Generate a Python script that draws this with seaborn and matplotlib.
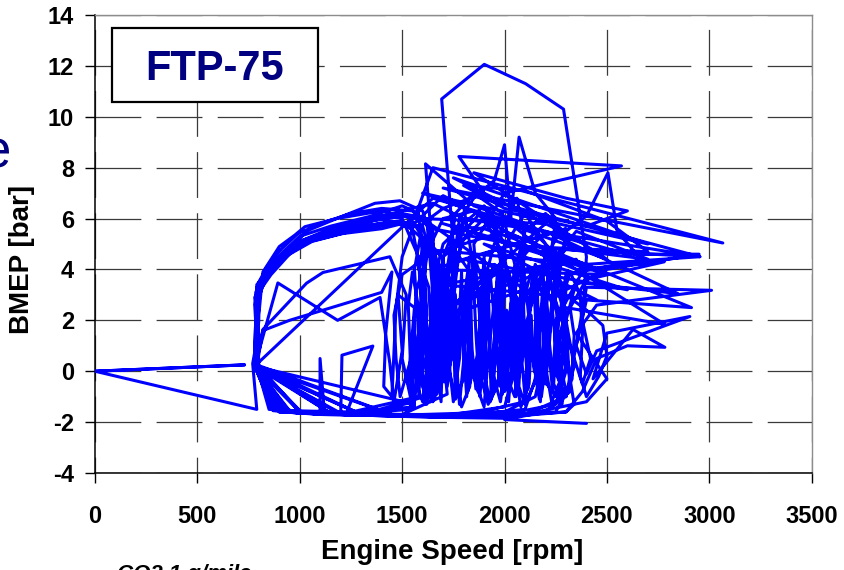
import matplotlib
matplotlib.use("Agg")
import matplotlib.pyplot as plt
from matplotlib.patches import Rectangle
import pandas as pd
import seaborn as sns

# FTP-75 operating trace: (engine speed [rpm], BMEP [bar]) in drive order
cold_transient = [
    (0, 0.0), (730, 0.25), (0, 0.0), (790, -1.5), (770, 0.3),
    (790, 1.2), (780, 2.6), (800, 3.4), (850, 4.0), (920, 4.7), (1000, 5.3), (1150, 5.7),
    (1350, 6.1), (1500, 6.5), (1580, 6.2), (1600, 4.5), (1620, 2.0), (1590, 0.5),
    (1610, -0.8), (1650, 1.5), (1680, 3.5), (1640, 5.0), (1700, 6.0), (1850, 6.3),
    (1950, 5.6), (2000, 3.5), (1960, 1.0), (1980, -0.6), (2020, 1.8), (2050, 3.8),
    (2100, 5.5), (2200, 6.2), (2300, 5.4), (2250, 3.0), (2200, 0.8), (2150, -1.0),
    (2000, -1.6), (1600, -1.7), (1200, -1.7), (960, -1.55), (850, -1.3), (790, 0.2),
    (820, 1.6), (950, 2.0), (1400, 3.1), (1450, 3.9), (1420, 1.5), (1410, -0.6),
    (1450, -1.0), (1470, 2.5), (1500, 4.5), (1560, 5.8), (1700, 6.9), (1800, 6.5),
    (1850, 4.0), (1800, 1.5), (1820, -0.8), (1880, 1.0), (1900, 3.5), (1950, 5.0),
    (2060, 6.8), (2100, 5.2), (2080, 2.5), (2120, 0.2), (2100, -1.2), (1800, -1.75),
    (1300, -1.7), (1000, -1.6), (800, 0.2),
    (790, 2.8), (830, 3.6), (900, 4.3), (1000, 4.9), (1100, 5.4), (1300, 5.8),
    (1500, 6.2), (1620, 6.0), (1650, 3.0), (1630, 0.6), (1660, -0.9), (1700, 2.5),
    (1750, 5.0), (1693, 10.7), (1901, 12.06), (2103, 11.3), (2288, 10.3), (2352, 7.0),
    (2400, 4.5), (2380, 2.0), (2420, 0.5), (2380, -0.5), (2300, 1.5), (2200, 4.0),
    (2350, 5.5), (2700, 4.4), (2300, 4.8), (2100, 3.0), (2050, 0.0), (2000, -1.4),
    (1700, -1.75), (1100, -1.7), (880, -1.5), (790, 0.25),
    (780, 1.0), (790, 3.0), (860, 3.8), (950, 4.6), (1060, 5.1), (1250, 5.5),
    (1450, 5.8), (1600, 5.7), (1650, 4.2), (1700, 1.8), (1720, -0.2), (1760, 1.2),
    (1740, 3.6), (1800, 5.2), (1900, 6.0), (2000, 4.5), (2050, 2.0), (2000, -0.8),
    (2070, 0.8), (2150, 3.2), (2250, 4.8), (2954, 4.5), (2400, 4.2), (2250, 2.0),
    (2300, 0.0), (2250, -1.3), (2000, -1.7), (1500, -1.75), (1000, -1.65), (870, -1.55),
    (780, 0.2), (893, 3.47), (1185, 2.0), (1392, 2.9), (1440, 0.3), (1460, -1.2),
    (1500, 0.8), (1480, 3.0), (1560, 2.5), (1530, -0.5), (1560, -1.4), (1200, -1.65),
    (780, 0.2), (870, -1.5), (790, 0.2), (1000, -1.55), (800, 0.1), (1300, -1.7),
    (790, 0.25), (1450, -1.7), (780, 0.2), (930, -1.55), (790, 0.2), (1150, -1.65),
    (780, 0.2),
]

stabilized = [
    (780, 0.2), (790, 1.5), (800, 3.2), (870, 4.0), (960, 4.8), (1030, 5.5), (1180, 6.0),
    (1367, 6.6), (1489, 6.7), (1600, 6.3), (1650, 5.0), (1700, 2.0), (1680, -0.3),
    (1720, 1.8), (1750, 4.2), (1780, 6.0), (1850, 6.8), (1950, 7.5), (2000, 8.9),
    (2030, 6.0), (2071, 9.2), (2150, 7.0), (2250, 6.0), (2200, 3.0), (2150, 0.5),
    (2180, -1.0), (2220, 1.5), (2250, 3.5), (2300, 2.0), (2320, -0.8), (2200, -1.6),
    (1900, -1.8), (1500, -1.75), (1100, -1.7), (920, -1.6), (780, 0.2),
    (800, 2.5), (810, 3.6), (900, 4.5), (1000, 5.0), (1200, 5.4), (1400, 5.6),
    (1550, 5.9), (1620, 5.0), (1600, 2.5), (1630, 0.0), (1610, -1.3), (1650, 0.5),
    (1670, 3.0), (1640, 5.5), (1614, 8.15), (1850, 6.5), (2100, 5.8), (2250, 4.6),
    (2200, 2.5), (2230, 0.3), (2300, -1.0), (2350, 1.0), (2400, 3.3), (3011, 3.18),
    (2450, 2.6), (2350, 1.5), (2450, 0.3), (2500, -0.3), (2400, -1.2), (2000, -1.85),
    (1600, -1.8), (1200, -1.7), (1206, 0.63), (1357, 0.99), (1230, -1.6), (950, -1.55),
    (780, 0.2),
    (820, 1.64), (1033, 3.46), (1113, 3.88), (1440, 4.5), (1520, 3.0), (1500, 0.5),
    (1540, -1.0), (1580, 1.5), (1560, 4.0), (1600, 5.8), (1700, 6.4), (1900, 7.0),
    (1777, 8.44), (2571, 8.07), (2000, 7.0), (1850, 5.0), (1880, 2.0), (1860, -0.5),
    (1900, -1.4), (1920, 0.5), (1950, 2.8), (1990, 4.8), (2100, 6.2), (2200, 5.0),
    (2180, 2.5), (2150, -0.3), (2100, -1.5), (1700, -1.8), (1300, -1.7), (1099, -1.6),
    (1099, 0.5), (1120, -1.6), (900, -1.6), (780, 0.2),
    (790, 2.0), (790, 3.3), (880, 4.2), (1000, 5.1), (1200, 5.7), (1400, 6.0),
    (1550, 5.6), (1600, 3.5), (1620, 1.0), (1650, -1.0), (1680, 0.8), (1700, 3.2),
    (1720, 1.0), (1750, -1.2), (1780, 0.5), (1800, 2.7), (1830, 4.5), (1810, 2.0),
    (1850, 0.0), (1880, -1.0), (1900, 1.5), (1930, 3.8), (1960, 1.2), (1990, -0.9),
    (2020, 0.9), (2050, 3.0), (2080, 5.0), (2110, 2.8), (2140, 0.4), (2170, -1.1),
    (2200, 0.8), (2230, 2.6), (2260, 4.4), (2290, 2.0), (2310, 0.2), (2340, -1.3),
    (2300, -1.6), (2000, -1.8), (1600, -1.75), (1100, -1.65), (900, -1.55), (780, 0.25),
    (800, 2.2), (820, 3.9), (900, 4.9), (976, 5.35), (1025, 5.68), (1180, 6.0),
    (1400, 6.3), (1560, 6.0), (1650, 8.0), (3066, 5.04), (1700, 7.2), (2954, 4.5),
    (1800, 6.0), (1600, 0.0), (1610, 3.0), (1625, -0.5), (1640, 2.2), (1660, 4.0),
    (1670, 0.5), (1690, -1.2), (1700, 1.8), (1715, 3.7), (1730, 0.2), (1745, 2.5),
    (1760, -0.8), (1775, 1.4), (1790, 3.9), (1800, 1.0), (1815, -1.0), (1830, 2.0),
    (1845, 4.2), (1860, 1.5), (1875, -0.4), (1890, 2.6), (1905, 0.0), (1920, 3.5),
    (1935, -1.1), (1950, 1.2), (1965, 4.0), (1980, 2.0), (1995, -0.6), (2010, 2.4),
    (2025, 0.4), (2040, 3.6), (2055, -1.0), (2070, 1.6), (2085, 4.3), (2100, 1.0),
    (2115, -0.7), (2130, 2.2), (2145, 0.0), (2160, 3.3), (2175, -1.2), (2190, 1.0),
    (2205, 3.0), (2220, 0.5), (2235, -0.8), (2250, 2.0), (2265, 0.2), (2280, -1.3),
    (2260, 1.8), (2240, 3.5), (2220, 1.2), (2200, -0.5), (2180, 2.6), (2160, 0.6),
    (2140, 4.0), (2120, 2.2), (2100, -1.0), (2080, 0.8), (2060, 2.9), (2040, 1.0),
    (2020, -1.2), (2000, 1.5), (1980, 3.8), (1960, 0.8), (1940, -0.9), (1920, 2.2),
    (1900, 4.5), (1880, 2.0), (1860, -0.7), (1840, 1.0), (1820, 3.2), (1800, 0.4),
    (1780, -1.3), (1760, 0.9), (1740, 3.0), (1720, 1.2), (1700, -0.4), (1680, 2.4),
    (1660, 0.0), (1640, -1.2), (1620, 1.8), (1600, 3.6), (1580, 0.9), (1570, -0.7),
    (1560, 2.0), (1540, -1.5), (1200, -1.7), (950, -1.6), (780, 0.2),
    (800, 2.9), (840, 3.8), (930, 4.6), (1050, 5.2), (1250, 5.6), (1450, 5.9),
    (1580, 5.7), (1620, 4.6), (1600, 3.0), (1590, 1.2), (1600, -0.3), (1630, -1.0),
    (1660, -0.2), (1670, 1.5), (1665, 3.2), (1680, 4.2), (1720, 3.4), (1740, 1.6),
    (1730, 0.0), (1760, -1.1), (1800, -0.3), (1810, 1.4), (1800, 2.9), (1830, 3.9),
    (1880, 3.1), (1900, 1.2), (1890, -0.4), (1920, -1.3), (1970, -0.5), (1980, 1.0),
    (1970, 2.6), (2000, 3.7), (2060, 2.9), (2080, 1.0), (2070, -0.6), (2100, -1.3),
    (2150, -0.4), (2160, 1.2), (2150, 2.8), (2180, 3.6), (2230, 2.7), (2250, 1.0),
    (2240, -0.5), (2280, -1.2), (2330, -0.3), (2340, 1.4), (2320, 2.5), (2400, 3.6),
    (2780, 4.3), (2350, 4.0), (2200, 4.5), (2050, 5.2), (1900, 5.6), (1760, 5.7),
    (1700, 4.5), (1720, 2.5), (1700, 0.8), (1720, -0.9), (1500, -1.7), (1000, -1.6),
    (780, 0.2),
    (1560, -1.3), (1550, 0.0), (1555, 1.6), (1570, 3.2), (1600, 4.0), (1630, 3.3),
    (1640, 1.8), (1630, 0.2), (1650, -1.2), (1690, -0.4), (1700, 1.0), (1695, 2.6),
    (1720, 3.8), (1760, 3.0), (1770, 1.4), (1760, -0.2), (1790, -1.4), (1830, -0.6),
    (1840, 1.1), (1835, 2.9), (1860, 4.3), (1900, 3.4), (1910, 1.6), (1900, -0.1),
    (1930, -1.2), (1970, -0.3), (1990, 1.2), (1980, 2.8), (2010, 4.1), (2050, 3.2),
    (2060, 1.6), (2050, 0.0), (2080, -1.4), (2120, -0.5), (2130, 1.1), (2120, 2.8),
    (2150, 4.2), (2200, 3.4), (2210, 1.8), (2200, 0.2), (2230, -1.2), (2270, -0.4),
    (2290, 1.2), (2280, 2.8), (2320, 3.9), (2370, 3.0), (2380, 1.4), (2370, -0.2),
    (2400, -1.0), (2460, -0.2), (2500, 0.6), (2480, 1.8), (2400, 2.4), (2300, 3.0),
    (2200, 4.8), (2000, 5.5), (1800, 5.0), (1620, 4.5), (1500, 3.8), (1460, 2.2),
    (1470, 0.5), (1490, -1.0), (1540, 0.4), (1530, 2.6), (1550, 3.9), (1580, 2.5),
    (1580, 0.6), (1610, -1.0), (1300, -1.7), (780, 0.2),
]

hot_transient = [
    (790, 0.8), (785, 3.1), (830, 3.9), (900, 4.5), (1000, 5.1), (1150, 5.6),
    (1300, 5.9), (1500, 6.3), (1650, 6.6), (1800, 6.0), (2000, 5.8), (2200, 5.5),
    (2600, 4.6), (2950, 4.6), (2500, 4.0), (2300, 3.2), (2280, 1.6), (2300, 0.2),
    (2250, -1.0), (2180, -0.2), (2170, 1.5), (2190, 3.0), (2130, 3.9), (2080, 2.4),
    (2090, 0.6), (2050, -1.0), (2000, 0.0), (1990, 1.8), (2000, 3.3), (1950, 4.2),
    (1900, 3.0), (1900, 1.0), (1870, -0.8), (1830, 0.4), (1820, 2.2), (1840, 3.8),
    (1770, 4.6), (1740, 3.0), (1750, 1.2), (1720, -0.6), (1680, 0.5), (1690, 2.4),
    (1700, 4.4), (1620, 5.2), (1600, 3.0), (1580, 0.2), (1560, -1.2), (1300, -1.7),
    (900, -1.6), (780, 0.3),
    (785, 2.2), (800, 3.5), (840, 4.1), (910, 4.8), (990, 5.4), (1100, 5.8),
    (1250, 6.2), (1400, 6.4), (1550, 6.3), (1650, 5.5), (1660, 3.2), (1640, 0.8),
    (1670, -0.9), (1700, 1.6), (1720, 4.0), (1760, 6.2), (1850, 7.0), (1990, 6.2),
    (2050, 4.2), (2020, 1.8), (2060, -0.5), (2100, 1.2), (2150, 3.6), (2250, 5.2),
    (2400, 6.1), (2505, 7.8), (2550, 5.5), (2669, 4.37), (2300, 3.8), (2250, 1.2),
    (2300, -0.8), (2250, -1.6), (1900, -1.75), (1400, -1.7), (1000, -1.6), (850, -1.5),
    (790, 0.2),
    (800, 1.2), (780, 2.9), (830, 3.7), (920, 4.5), (1050, 5.2), (1200, 5.7), (1400, 6.1),
    (1500, 6.0), (1580, 4.5), (1600, 1.5), (1570, -0.5), (1600, -1.2), (1630, 0.8),
    (1650, 3.4), (1700, 5.0), (1800, 5.8), (1900, 6.5), (2000, 5.0), (1960, 2.5),
    (1940, 0.0), (1980, -1.2), (2010, 0.6), (2040, 3.0), (2100, 4.6), (2200, 5.5),
    (2847, 3.05), (2350, 3.5), (2300, 2.0), (2340, 0.2), (2300, -1.0), (2100, -1.7),
    (1700, -1.8), (1200, -1.7), (900, -1.55), (780, 0.2),
    (1650, 6.8), (2400, 5.0), (1750, 7.6), (2700, 5.0), (1600, 7.0), (2500, 4.4),
    (1850, 7.8), (2300, 6.8), (2600, 6.3), (2400, 5.7), (2000, 6.4), (1800, 7.3),
    (2100, 7.1), (2500, 5.9), (2700, 4.7), (2100, 4.9), (1650, 5.6), (1580, 4.0),
    (1600, 4.8), (2400, 4.2), (1700, 5.8), (2500, 3.8), (1650, 4.0), (2300, 5.6),
    (1800, 4.4), (2600, 3.2), (1900, 5.0), (2450, 2.8), (1700, 3.4), (2350, 4.4),
    (1750, 2.6), (2200, 5.8), (1600, 6.0), (2100, 3.2), (1650, 2.0), (2000, 4.2),
    (1600, 1.0), (1580, -1.0), (1200, -1.7), (780, 0.2),
    (790, 2.2), (810, 3.5), (900, 4.3), (1000, 5.0), (1150, 5.5), (1350, 5.9), (1500, 6.1),
    (1620, 5.9), (1680, 4.0), (1700, 1.2), (1690, -0.6), (1730, 0.9), (1760, 3.5),
    (1790, 5.4), (1880, 6.2), (2000, 5.5), (2913, 2.5), (2400, 2.8), (2350, 1.0),
    (2400, -0.1), (2450, 0.8), (2905, 2.15), (2500, 1.5), (2432, -0.3), (2627, 1.64),
    (2783, 0.94), (2600, 1.0), (2450, 0.5), (2380, -0.8), (2300, -1.6), (1900, -1.8),
    (1400, -1.75), (1000, -1.65), (870, -1.5), (780, 0.2),
    (800, 2.0), (790, 3.4), (860, 4.1), (950, 4.8), (1100, 5.3), (1300, 5.7), (1500, 5.9),
    (1600, 5.2), (1620, 2.2), (1590, -0.2), (1620, -1.3), (1650, 0.3), (1670, 2.8),
    (1700, 4.5), (1850, 5.5), (2000, 6.0), (2150, 5.0), (2783, 1.84), (2300, 2.5),
    (2250, 0.5), (2280, -1.0), (2200, -1.6), (2000, -1.9), (2400, -2.05),
]

cycle_name = "FTP-75"
x_label = "Engine Speed [rpm]"
y_label = "BMEP [bar]"
x_ticks = [0, 500, 1000, 1500, 2000, 2500, 3000, 3500]
y_ticks = [-4, -2, 0, 2, 4, 6, 8, 10, 12, 14]

points = cold_transient + stabilized + hot_transient
df = pd.DataFrame(points, columns=["rpm", "bmep"])

sns.set_style("white")
plt.rcParams["font.family"] = ["Liberation Sans", "DejaVu Sans"]
plt.rcParams["lines.scale_dashes"] = False
plt.rcParams["text.color"] = "black"
plt.rcParams["xtick.color"] = "black"
plt.rcParams["ytick.color"] = "black"

W, H = 844, 570
fig = plt.figure(figsize=(W / 100, H / 100), dpi=100)
ax = fig.add_axes([95 / W, 1 - 473 / H, (811.7 - 95) / W, (473 - 15) / H])

sns.lineplot(data=df, x="rpm", y="bmep", sort=False, estimator=None,
             color="#0000ff", linewidth=2.2, ax=ax, zorder=3)

ax.set_xlim(0, 3500)
ax.set_ylim(-4, 14)
ax.set_xticks(x_ticks)
ax.set_yticks(y_ticks)
ax.set_xticklabels([str(v) for v in x_ticks], fontsize=17, fontweight="bold", color="black")
ax.set_yticklabels([str(v) for v in y_ticks], fontsize=17, fontweight="bold", color="black")
ax.set_xlabel("")
ax.set_ylabel("")

ax.tick_params(axis="x", bottom=True, direction="out", length=7, width=1,
               color="black", pad=16)
ax.tick_params(axis="y", left=True, direction="out", length=7, width=1,
               color="black", pad=8)

ax.yaxis.grid(True, color="#3a3a3a", linewidth=0.9, linestyle=(0, (33, 11)))
ax.xaxis.grid(True, color="#3a3a3a", linewidth=0.9, linestyle=(21.6, (33, 11)))
ax.set_axisbelow(True)

for side in ("left", "bottom"):
    ax.spines[side].set_color("black")
    ax.spines[side].set_linewidth(1.1)
for side in ("top", "right"):
    ax.spines[side].set_visible(True)
    ax.spines[side].set_color("#8c8c8c")
    ax.spines[side].set_linewidth(1.0)

# Cycle name box
ax.add_patch(Rectangle((17 / 716.7, (473 - 102) / 458), 206 / 716.7, 74 / 458,
                       transform=ax.transAxes, facecolor="white", edgecolor="black",
                       linewidth=1.6, zorder=5))
ax.text(120 / 716.7, (473 - 80) / 458, cycle_name,
        transform=ax.transAxes, ha="center", va="baseline", fontsize=30,
        fontweight="bold", color="#000080", zorder=6)

fig.text(452 / W, 1 - 552 / H, x_label, ha="center", va="center",
         fontsize=20, fontweight="bold")
fig.text(22 / W, 1 - 259 / H, y_label, ha="center", va="center", rotation=90,
         fontsize=20, fontweight="bold")
fig.text(11 / W, 1 - 168 / H, "e", ha="right", va="baseline",
         fontsize=38, color="#000080")
fig.text(117 / W, 1 - 564 / H, "CO2 1 g/mile", ha="left", va="top",
         fontsize=16, fontweight="bold", fontstyle="italic")

fig.savefig("out.png", dpi=100)
